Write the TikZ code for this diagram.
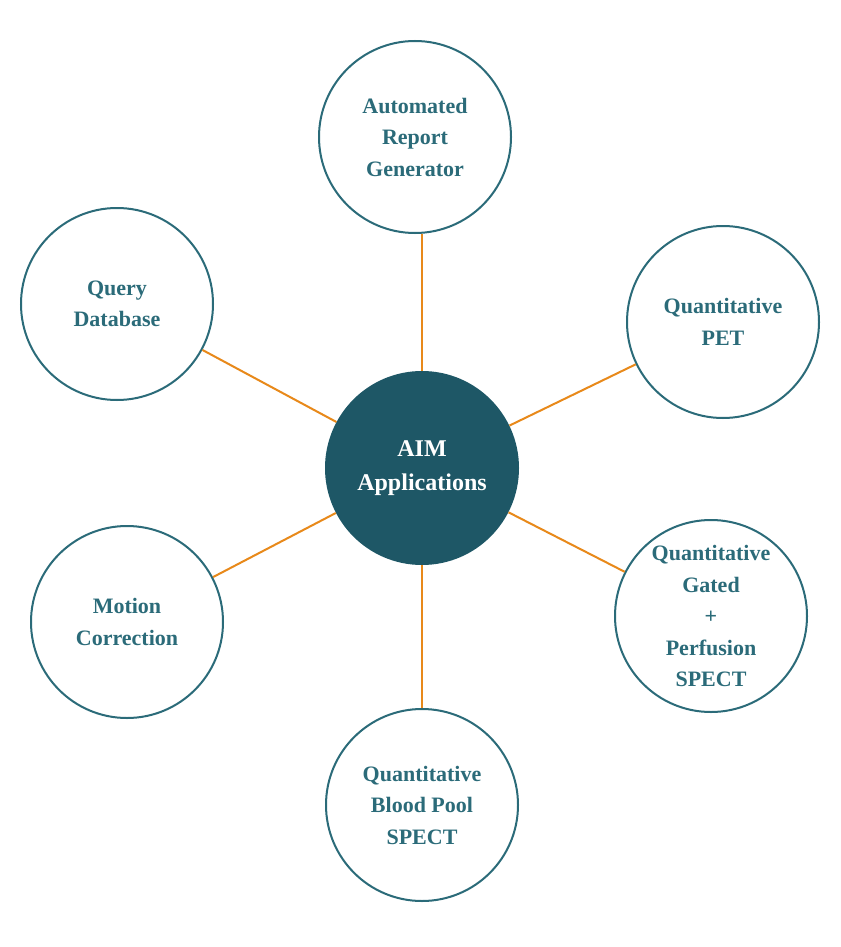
\documentclass[tikz,border=0pt]{standalone}
\usepackage{fontspec}
\setmainfont{Liberation Serif}
\definecolor{teal1}{HTML}{2B6B79}
\definecolor{tealfill}{HTML}{1E5766}
\definecolor{orng}{HTML}{E8891A}
\begin{document}
\begin{tikzpicture}[x=1pt,y=-1pt,
  outer/.style={circle,draw=teal1,line width=2pt,fill=white,minimum size=192pt,inner sep=0pt,align=center,text=teal1,font=\fontsize{22}{31.5}\selectfont\bfseries},
  hub/.style={circle,fill=tealfill,minimum size=194pt,inner sep=0pt,align=center,text=white,font=\fontsize{24}{34}\selectfont\bfseries},
  link/.style={draw=orng,line width=2pt}]
\useasboundingbox (0,0) rectangle (840,947);
\fill[white] (0,0) rectangle (840,947);
\node[hub] (c) at (422,468) {AIM\\Applications};
\node[outer] (arg) at (415,137) {Automated\\Report\\Generator};
\node[outer] (qd) at (117,304) {Query\\Database};
\node[outer] (pet) at (723,322) {Quantitative\\PET};
\node[outer] (gat) at (711,616) {Quantitative\\Gated\\+\\Perfusion\\SPECT};
\node[outer] (mc) at (127,622) {Motion\\Correction};
\node[outer] (bp) at (422,805) {Quantitative\\Blood Pool\\SPECT};
\draw[link] (c.north) -- (c.north |- arg.south);
\draw[link] (c.south) -- (bp.north);
\draw[link] (c) -- (qd);
\draw[link] (c) -- (pet);
\draw[link] (c) -- (gat);
\draw[link] (c) -- (mc);
\end{tikzpicture}
\end{document}
